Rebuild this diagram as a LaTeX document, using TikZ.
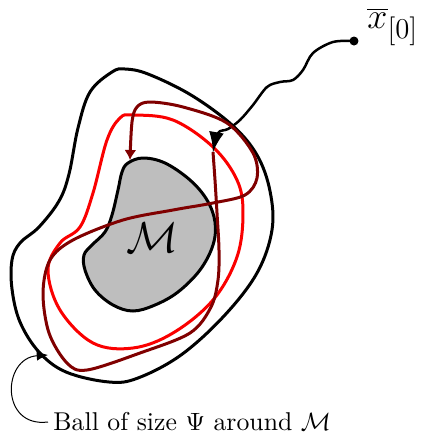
\documentclass[tikz,border=0pt]{standalone}
\usetikzlibrary{arrows.meta}
\definecolor{darkredc}{RGB}{128,0,0}
\definecolor{brightredc}{RGB}{250,0,0}
\definecolor{blobgray}{RGB}{190,190,190}
\begin{document}
\begin{tikzpicture}[x=0.4pt,y=-0.4pt,
  outline/.style={line width=1.2pt,line join=round},
  traj/.style={line width=1.2pt,line join=round}]
\useasboundingbox (0,0) rectangle (421,435);
% manifold
\draw[outline,fill=blobgray] plot[smooth cycle,tension=0.6] coordinates {
 (128,163) (143,158) (165,163) (190,180) (207,200) (215,222) (213,245)
 (200,270) (178,292) (155,305) (133,311) (113,305) (95,290) (85,270)
 (84,255) (92,245) (105,232) (112,215) (118,190) (122,172)};
\node[font=\LARGE] (M) at (152,238) {$\mathcal{M}$};
% outer ball
\draw[outline] plot[smooth cycle,tension=0.6] coordinates {
 (112,72) (90,92) (78,128) (69,174) (59,201) (39,227) (20,243) (12,260)
 (12,289) (20,322) (39,352) (66,372) (109,382) (138,378) (181,355)
 (224,316) (257,273) (272,230) (270,191) (257,155) (232,125) (191,95)
 (148,74) (125,69)};
% red closed curve
\draw[traj,brightredc] plot[smooth cycle,tension=0.6] coordinates {
 (133,115) (173,120) (213,147) (237,180) (243,213) (237,257) (213,300)
 (173,333) (133,348) (93,343) (60,310) (48,270) (60,243) (80,227)
 (93,193) (107,140) (120,118)};
% starting point and wiggle
\coordinate (x0) at (354,41);
\fill (x0) circle (4.5);
\node[anchor=base west,inner sep=0,font=\Large] (x0lab) at (367,28) {$\overline{x}_{\lower2pt\hbox{\fontsize{11.5}{13}\selectfont[0]}}$};
\draw[line width=1pt,-{Latex[length=8pt,width=6pt]}] plot[smooth,tension=0.55] coordinates {
 (x0) (333,42) (313,53) (303,70) (293,80) (280,82) (267,87) (253,105)
 (240,120) (228,129) (218,133) (213,152)};
% dark red trajectory
\draw[traj,darkredc,-{Latex[length=4pt,width=4.8pt]}] plot[smooth,tension=0.55] coordinates {
 (213,152) (215,180) (217,213) (219,250) (218,280) (211,307) (190,333)
 (140,353) (87,370) (67,363) (49,333) (43,293) (50,260) (73,240)
 (123,220) (173,210) (213,203) (245,195) (257,178) (253,153) (227,123)
 (183,107) (150,102) (137,107) (132,122) (130,160)};
% annotation
\node[anchor=west,inner sep=2pt,font=\fontsize{10.3}{12}\selectfont] (ball) at (48,422) {Ball of size $\Psi$ around $\mathcal{M}$};
\coordinate (onball) at (48,355);
\draw[line width=0.4pt,-{Latex[length=4.5pt,width=4pt]}] (ball.west) .. controls (0,428) and (2,358) .. (onball);
\end{tikzpicture}
\end{document}
